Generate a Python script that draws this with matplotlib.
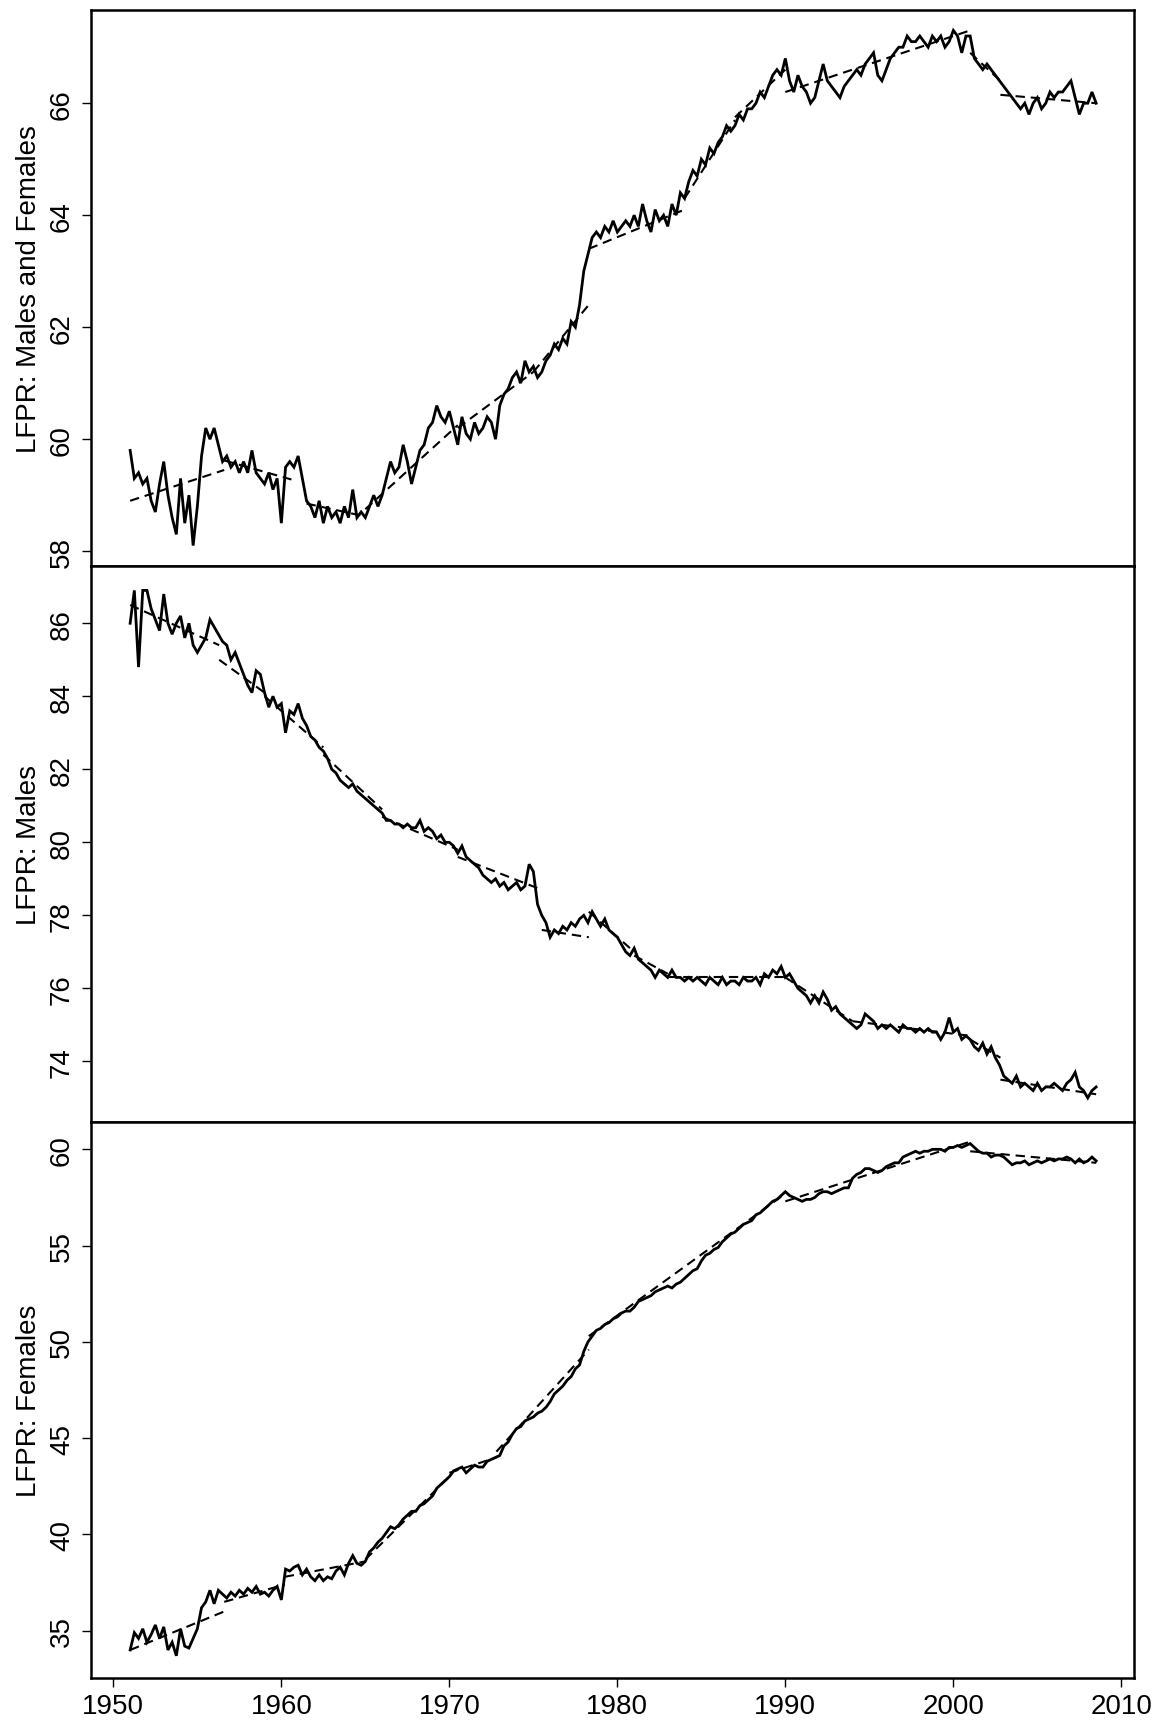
import numpy as np
import matplotlib
matplotlib.use("Agg")
import matplotlib.pyplot as plt

plt.rcParams['font.family'] = ['Liberation Sans', 'DejaVu Sans']

# ---------------- data (quarterly readings, 1951.0 .. 2008.5) ----------------
start_year = 1951.0
step = 0.25

lfpr_total = [
    59.8, 59.3, 59.4, 59.2,  59.3, 58.9, 58.7, 59.2,  59.6, 59.0, 58.6, 58.3,
    59.3, 58.5, 59.0, 58.1,  58.8, 59.7, 60.2, 60.0,  60.2, 59.9, 59.6, 59.7,
    59.5, 59.6, 59.4, 59.6,  59.4, 59.8, 59.4, 59.3,  59.2, 59.4, 59.1, 59.3,
    58.5, 59.5, 59.6, 59.5,  59.7, 59.3, 58.9, 58.8,  58.6, 58.9, 58.5, 58.8,
    58.6, 58.7, 58.5, 58.8,  58.6, 59.1, 58.6, 58.7,  58.6, 58.8, 59.0, 58.8,
    59.0, 59.3, 59.6, 59.4,  59.5, 59.9, 59.6, 59.2,  59.5, 59.8, 59.9, 60.2,
    60.3, 60.6, 60.4, 60.3,  60.5, 60.2, 59.9, 60.4,  60.1, 60.0, 60.3, 60.1,
    60.2, 60.4, 60.3, 60.0,  60.6, 60.8, 60.9, 61.1,  61.2, 61.0, 61.4, 61.2,
    61.3, 61.1, 61.2, 61.4,  61.5, 61.7, 61.6, 61.8,  61.7, 62.1, 62.0, 62.4,
    63.0, 63.3, 63.6, 63.7,  63.6, 63.8, 63.7, 63.9,  63.7, 63.8, 63.9, 63.8,
    64.0, 63.8, 64.2, 63.9,  63.7, 64.1, 63.9, 64.0,  63.8, 64.2, 64.0, 64.4,
    64.3, 64.6, 64.8, 64.7,  65.0, 64.9, 65.2, 65.1,  65.3, 65.4, 65.6, 65.5,
    65.6, 65.8, 65.7, 65.9,  65.9, 66.0, 66.2, 66.1,  66.3, 66.5, 66.6, 66.5,
    66.8, 66.4, 66.2, 66.5,  66.3, 66.2, 66.0, 66.1,  66.4, 66.7, 66.4, 66.3,
    66.2, 66.1, 66.3, 66.4,  66.5, 66.6, 66.5, 66.7,  66.8, 66.9, 66.5, 66.4,
    66.6, 66.8, 66.9, 67.0,  67.0, 67.2, 67.1, 67.1,  67.2, 67.1, 67.0, 67.2,
    67.1, 67.2, 67.0, 67.1,  67.3, 67.2, 66.9, 67.2,  67.2, 66.8, 66.7, 66.6,
    66.7, 66.6, 66.5, 66.4,  66.3, 66.2, 66.1, 66.0,  65.9, 66.0, 65.8, 66.0,
    66.1, 65.9, 66.0, 66.2,  66.1, 66.2, 66.2, 66.3,  66.4, 66.1, 65.8, 66.0,
    66.0, 66.2, 66.0,
]

lfpr_males = [
    86.0, 86.9, 84.8, 86.9,  86.9, 86.4, 86.1, 85.8,  86.8, 86.0, 85.7, 86.0,
    86.2, 85.6, 86.0, 85.4,  85.2, 85.4, 85.6, 86.1,  85.9, 85.7, 85.5, 85.4,
    85.0, 85.2, 84.9, 84.6,  84.3, 84.1, 84.7, 84.6,  84.1, 83.7, 84.0, 83.7,
    83.8, 83.0, 83.6, 83.5,  83.8, 83.4, 83.2, 82.9,  82.8, 82.6, 82.5, 82.3,
    82.0, 81.9, 81.7, 81.6,  81.5, 81.6, 81.4, 81.3,  81.2, 81.1, 81.0, 80.9,
    80.8, 80.6, 80.6, 80.5,  80.5, 80.4, 80.5, 80.4,  80.4, 80.6, 80.3, 80.4,
    80.3, 80.1, 80.2, 80.0,  80.0, 79.9, 79.7, 79.9,  79.6, 79.5, 79.4, 79.3,
    79.1, 79.0, 78.9, 79.0,  78.8, 78.9, 78.7, 78.8,  78.9, 78.7, 78.8, 79.4,
    79.2, 78.3, 78.0, 77.8,  77.4, 77.6, 77.5, 77.7,  77.6, 77.8, 77.7, 77.9,
    78.0, 77.8, 78.1, 77.9,  77.7, 77.9, 77.6, 77.5,  77.4, 77.2, 77.0, 76.9,
    77.1, 76.8, 76.7, 76.6,  76.5, 76.3, 76.5, 76.4,  76.3, 76.5, 76.3, 76.3,
    76.2, 76.3, 76.2, 76.3,  76.2, 76.1, 76.3, 76.2,  76.1, 76.3, 76.1, 76.2,
    76.2, 76.1, 76.3, 76.2,  76.2, 76.3, 76.1, 76.4,  76.3, 76.5, 76.4, 76.6,
    76.3, 76.4, 76.2, 76.0,  75.9, 75.8, 75.6, 75.8,  75.6, 75.9, 75.7, 75.4,
    75.5, 75.3, 75.2, 75.1,  75.0, 74.9, 75.0, 75.3,  75.2, 75.1, 74.9, 75.0,
    74.9, 75.0, 74.9, 74.8,  75.0, 74.9, 74.9, 74.8,  74.9, 74.8, 74.9, 74.8,
    74.8, 74.6, 74.8, 75.2,  74.8, 74.9, 74.6, 74.7,  74.6, 74.4, 74.3, 74.5,
    74.2, 74.4, 74.1, 73.9,  73.6, 73.5, 73.4, 73.6,  73.3, 73.4, 73.3, 73.2,
    73.4, 73.2, 73.3, 73.3,  73.4, 73.3, 73.2, 73.4,  73.5, 73.7, 73.3, 73.2,
    73.0, 73.2, 73.3,
]

lfpr_females = [
    34.0, 34.9, 34.6, 35.1,  34.4, 34.8, 35.3, 34.6,  35.2, 34.0, 34.4, 33.7,
    35.1, 34.2, 34.1, 34.6,  35.1, 36.2, 36.5, 37.1,  36.4, 37.1, 36.9, 36.7,
    37.0, 36.8, 37.1, 36.9,  37.2, 37.0, 37.3, 36.9,  37.0, 36.8, 37.1, 37.3,
    36.6, 38.2, 38.1, 38.3,  38.4, 37.9, 38.2, 37.8,  37.6, 37.9, 37.6, 37.8,
    37.7, 38.1, 38.3, 37.9,  38.5, 38.9, 38.5, 38.4,  38.6, 39.1, 39.3, 39.6,
    39.8, 40.1, 40.4, 40.3,  40.5, 40.8, 41.0, 41.2,  41.2, 41.5, 41.6, 41.8,
    42.0, 42.4, 42.6, 42.8,  43.0, 43.3, 43.4, 43.5,  43.2, 43.4, 43.6, 43.5,
    43.5, 43.8, 43.9, 44.0,  44.1, 44.6, 44.8, 45.2,  45.5, 45.6, 45.9, 46.0,
    46.1, 46.3, 46.4, 46.6,  46.9, 47.3, 47.5, 47.7,  48.0, 48.2, 48.6, 48.8,
    49.5, 50.0, 50.3, 50.6,  50.7, 50.9, 51.0, 51.2,  51.3, 51.5, 51.6, 51.6,
    51.8, 52.1, 52.2, 52.3,  52.4, 52.6, 52.7, 52.8,  52.9, 52.8, 53.0, 53.1,
    53.3, 53.5, 53.7, 53.8,  54.2, 54.5, 54.6, 54.8,  54.9, 55.2, 55.4, 55.6,
    55.7, 55.9, 56.1, 56.2,  56.3, 56.6, 56.7, 56.9,  57.1, 57.3, 57.4, 57.6,
    57.8, 57.6, 57.5, 57.4,  57.3, 57.4, 57.4, 57.5,  57.7, 57.8, 57.8, 57.7,
    57.8, 57.9, 58.0, 58.0,  58.5, 58.7, 58.8, 59.0,  59.0, 58.9, 58.8, 58.9,
    59.1, 59.2, 59.3, 59.3,  59.6, 59.7, 59.8, 59.9,  59.8, 59.9, 59.9, 60.0,
    60.0, 60.0, 59.9, 60.1,  60.1, 60.2, 60.1, 60.2,  60.3, 60.1, 59.9, 59.8,
    59.8, 59.6, 59.7, 59.7,  59.6, 59.4, 59.2, 59.3,  59.3, 59.4, 59.2, 59.3,
    59.4, 59.3, 59.4, 59.5,  59.4, 59.5, 59.5, 59.6,  59.5, 59.3, 59.5, 59.3,
    59.4, 59.6, 59.4,
]

# dashed segmented trends: (start year, end year, start value, end value)
trend_total = [
    (1951.0, 1956.6, 58.90, 59.45), (1956.6, 1960.6, 59.62, 59.28),
    (1961.5, 1965.0, 58.85, 58.62), (1965.0, 1970.5, 58.75, 60.25),
    (1970.5, 1975.0, 60.20, 61.20), (1975.0, 1978.3, 61.20, 62.40),
    (1978.3, 1984.0, 63.40, 64.10), (1984.0, 1987.0, 64.30, 65.70),
    (1987.0, 1990.0, 65.75, 66.60), (1990.0, 2001.0, 66.20, 67.30),
    (2001.0, 2002.8, 66.90, 66.40), (2002.8, 2008.5, 66.15, 66.00),
]
trend_males = [
    (1951.0, 1956.3, 86.50, 85.40), (1956.3, 1959.0, 85.00, 84.10),
    (1959.0, 1962.5, 84.00, 82.60), (1962.5, 1966.0, 82.40, 80.90),
    (1966.0, 1970.5, 80.70, 79.80), (1970.5, 1975.5, 79.60, 78.70),
    (1975.5, 1978.3, 77.60, 77.40), (1978.3, 1981.0, 78.10, 77.00),
    (1981.0, 1983.0, 76.90, 76.40), (1983.0, 1990.0, 76.30, 76.30),
    (1990.0, 1994.0, 76.30, 75.10), (1994.0, 2001.0, 75.10, 74.70),
    (2001.0, 2002.8, 74.60, 74.10), (2002.8, 2008.5, 73.50, 73.10),
]
trend_females = [
    (1951.0, 1956.6, 34.00, 36.00), (1956.6, 1960.2, 36.50, 37.40),
    (1960.2, 1965.0, 37.80, 38.60), (1965.0, 1970.0, 38.70, 43.00),
    (1970.0, 1972.8, 43.20, 44.00), (1972.8, 1978.3, 44.30, 49.60),
    (1978.3, 1990.0, 50.30, 57.70), (1990.0, 2001.0, 57.30, 60.40),
    (2001.0, 2008.5, 59.90, 59.30),
]

ylabels = ["LFPR: Males and Females", "LFPR: Males", "LFPR: Females"]
yticks = [[58, 60, 62, 64, 66], [74, 76, 78, 80, 82, 84, 86], [35, 40, 45, 50, 55, 60]]
ylims = [(57.73, 67.67), (72.34, 87.56), (32.53, 61.42)]
xticks = [1950, 1960, 1970, 1980, 1990, 2000, 2010]
xlim = (1948.67, 2010.77)

# ---------------- figure ----------------
W, H = 1164, 1724
fig = plt.figure(figsize=(W / 100, H / 100), dpi=100)

left = 91 / W
width = (1134.3 - 91) / W
edges_px = [10.7, 567.3, 1123.0, 1679.3]

series = [lfpr_total, lfpr_males, lfpr_females]
trends = [trend_total, trend_males, trend_females]

for i in range(3):
    top_px, bot_px = edges_px[i], edges_px[i + 1]
    ax = fig.add_axes([left, 1 - bot_px / H, width, (bot_px - top_px) / H])
    vals = np.array(series[i], dtype=float)
    t = start_year + step * np.arange(len(vals))
    ax.plot(t, vals, color='black', lw=2.0, solid_joinstyle='miter', zorder=3)
    for (x0, x1, y0, y1) in trends[i]:
        ax.plot([x0, x1], [y0, y1], color='black', lw=1.5,
                linestyle=(0, (4.5, 2.8)), zorder=2)
    ax.set_xlim(*xlim)
    ax.set_ylim(*ylims[i])
    ax.set_yticks(yticks[i])
    ax.set_yticklabels([str(v) for v in yticks[i]], rotation=90, va='center')
    ax.tick_params(axis='y', direction='out', length=6.5, width=1.0,
                   labelsize=20, pad=5)
    ax.set_ylabel(ylabels[i], fontsize=20)
    ax.yaxis.set_label_coords(-0.0465, 0.5)
    for s in ax.spines.values():
        s.set_linewidth(1.8)
    if i < 2:
        ax.set_xticks([])
    else:
        ax.set_xticks(xticks)
        ax.set_xticklabels([str(v) for v in xticks])
        ax.tick_params(axis='x', direction='out', length=6.5, width=1.0,
                       labelsize=20, pad=4)

fig.savefig("out.png", dpi=100)
